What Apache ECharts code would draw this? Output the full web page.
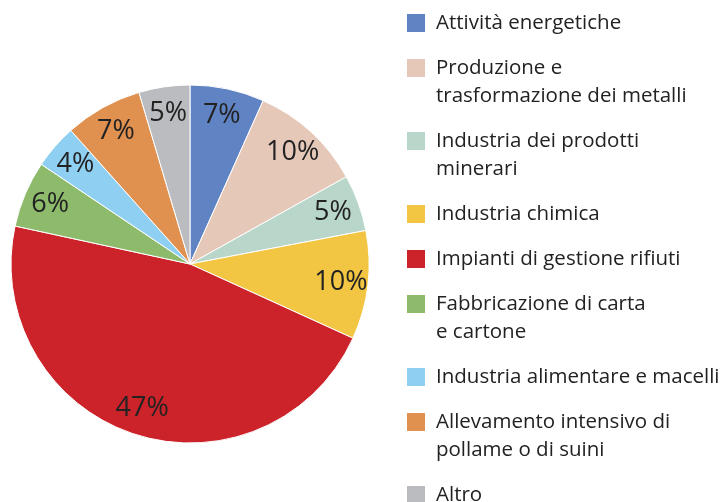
<!DOCTYPE html>
<html>
<head>
<meta charset="utf-8">
<script src="https://cdn.jsdelivr.net/npm/echarts@6/dist/echarts.min.js"></script>
<style>
  html, body { margin: 0; padding: 0; background: #fff; }
  #main { width: 727px; height: 502px; }
</style>
</head>
<body>
<div id="main"></div>
<script>
// categorie (a capo dove va a capo la legenda)
const categories = [
  'Attività energetiche',
  'Produzione e\ntrasformazione dei metalli',
  'Industria dei prodotti\nminerari',
  'Industria chimica',
  'Impianti di gestione rifiuti',
  'Fabbricazione di carta\ne cartone',
  'Industria alimentare e macelli',
  'Allevamento intensivo di\npollame o di suini',
  'Altro'
];
// quote in %
const shares = [6.7, 10.2, 5.1, 9.8, 46.6, 6.0, 4.0, 7.0, 4.6];
const colors = ['#6083C4', '#E6C8B8', '#B8D6CA', '#F2C642', '#CC232A', '#8DBB6B', '#8ECFF2', '#E0904F', '#BBBCC0'];

const textColor = '#222222';
const fontFamily = '"Open Sans", Lato, sans-serif';

let pieData = categories.map((name, i) => ({
  name: name,
  value: shares[i],
  itemStyle: { color: colors[i] }
}));

// stili rich per i quadratini della legenda
let rich = {
  g: { width: 11, height: 28, lineHeight: 28 },
  ind: { width: 29, height: 28, lineHeight: 28 },
  t: { fontSize: 20.5, lineHeight: 28, color: textColor, fontFamily: fontFamily, verticalAlign: 'middle' }
};
colors.forEach((c, i) => {
  rich['s' + i] = { width: 18, height: 18, backgroundColor: c, verticalAlign: 'middle' };
});

const chart = echarts.init(document.getElementById('main'), null, { renderer: 'canvas' });

chart.setOption({
  animation: false,
  backgroundColor: '#fff',
  textStyle: { fontFamily: fontFamily },
  legend: {
    orient: 'vertical',
    left: 402,
    top: 9,
    height: 540,
    padding: 0,
    itemGap: 17,
    icon: 'none',
    itemWidth: 0,
    itemHeight: 18,
    selectedMode: false,
    data: categories,
    formatter: function (name) {
      const i = categories.indexOf(name);
      const lines = name.split('\n');
      let out = '{s' + i + '|}{g|}{t|' + lines[0] + '}';
      for (let k = 1; k < lines.length; k++) {
        out += '\n{ind|}{t|' + lines[k] + '}';
      }
      return out;
    },
    textStyle: { rich: rich, fontSize: 20.5, lineHeight: 28, color: textColor }
  },
  series: [
    {
      name: 'fette',
      type: 'pie',
      center: [190, 264],
      radius: 179,
      startAngle: 90,
      clockwise: true,
      silent: true,
      itemStyle: { borderColor: '#fff', borderWidth: 1 },
      label: { show: false },
      labelLine: { show: false },
      emphasis: { disabled: true },
      data: pieData
    },
    {
      // anello trasparente solo per piazzare le etichette vicino al bordo
      name: 'etichette',
      type: 'pie',
      center: [190, 264],
      radius: [119, 179],
      startAngle: 90,
      clockwise: true,
      silent: true,
      itemStyle: { color: 'rgba(0,0,0,0)', borderWidth: 0 },
      label: {
        show: true,
        position: 'inside',
        formatter: p => Math.round(p.value) + '%',
        fontSize: 27,
        color: textColor,
        fontFamily: fontFamily
      },
      labelLine: { show: false },
      emphasis: { disabled: true },
      data: categories.map((name, i) => ({ name: name, value: shares[i] }))
    }
  ]
});
</script>
</body>
</html>
